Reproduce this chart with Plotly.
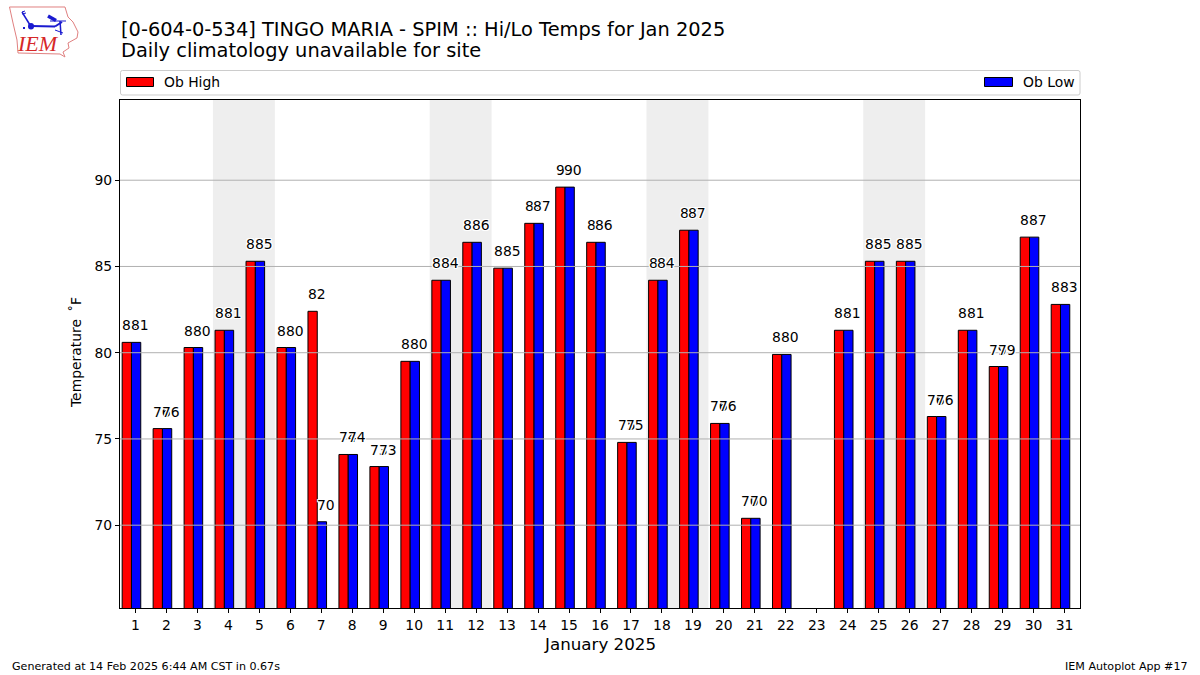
import plotly.graph_objects as go

days = list(range(1, 32))
highs = [80.6, 75.6, 80.3, 81.3, 85.3, 80.3, 82.4, 74.1, 73.4, 79.5, 84.2, 86.4, 84.9, 87.5, 89.6, 86.4,
         74.8, 84.2, 87.1, 75.9, 70.4, 79.9, None, 81.3, 85.3, 85.3, 76.3, 81.3, 79.2, 86.7, 82.8]
lows = [80.6, 75.6, 80.3, 81.3, 85.3, 80.3, 70.2, 74.1, 73.4, 79.5, 84.2, 86.4, 84.9, 87.5, 89.6, 86.4,
        74.8, 84.2, 87.1, 75.9, 70.4, 79.9, None, 81.3, 85.3, 85.3, 76.3, 81.3, 79.2, 86.7, 82.8]
high_labels = [81, 76, 80, 81, 85, 80, 82, 74, 73, 80, 84, 86, 85, 87, 90, 86,
               75, 84, 87, 76, 70, 80, None, 81, 85, 85, 76, 81, 79, 87, 83]
low_labels = [81, 76, 80, 81, 85, 80, 70, 74, 73, 80, 84, 86, 85, 87, 90, 86,
              75, 84, 87, 76, 70, 80, None, 81, 85, 85, 76, 81, 79, 87, 83]
weekends = [(4, 5), (11, 12), (18, 19), (25, 26)]
y_ticks = [70, 75, 80, 85, 90]
title_lines = ["[0-604-0-534] TINGO MARIA - SPIM :: Hi/Lo Temps for Jan 2025",
               "Daily climatology unavailable for site"]

FONT = "DejaVu Sans"
HALO = "1px 0 0 white, -1px 0 0 white, 0 1px 0 white, 0 -1px 0 white, 1px 1px 0 white, -1px -1px 0 white, 1px -1px 0 white, -1px 1px 0 white"
L, R, T, B = 120, 1080, 100, 608


def px(x):
    return (x - L) / (R - L)


def py(y):
    return (B - y) / (B - T)


fig = go.Figure()
fig.add_bar(x=days, y=highs, name="Ob High", width=0.3, offset=-0.43,
            marker=dict(color="#ff0000", line=dict(color="black", width=1)), hoverinfo="x+y")
fig.add_bar(x=days, y=lows, name="Ob Low", width=0.3, offset=-0.13,
            marker=dict(color="#0000ff", line=dict(color="black", width=1)), hoverinfo="x+y")

shapes = []
for a, b in weekends:
    shapes.append(dict(type="rect", xref="x", yref="paper", x0=a - 0.5, x1=b + 0.5, y0=0, y1=1,
                       fillcolor="#eeeeee", line=dict(width=0), layer="below"))
for t in y_ticks:
    shapes.append(dict(type="line", xref="paper", yref="y", x0=0, x1=1, y0=t, y1=t,
                       line=dict(color="#b0b0b0", width=1), layer="above"))

# legend frame and swatches
shapes.append(dict(type="path", xref="paper", yref="paper", layer="above",
                   path="M %f,%f L %f,%f Q %f,%f %f,%f L %f,%f Q %f,%f %f,%f L %f,%f Q %f,%f %f,%f L %f,%f Q %f,%f %f,%f Z" % (
                       px(122.5), py(70.5), px(1078), py(70.5), px(1080), py(70.5), px(1080), py(72.5),
                       px(1080), py(93), px(1080), py(95), px(1078), py(95),
                       px(122.5), py(95), px(120.5), py(95), px(120.5), py(93),
                       px(120.5), py(72.5), px(120.5), py(70.5), px(122.5), py(70.5)),
                   line=dict(color="#cccccc", width=1), fillcolor="white"))
shapes.append(dict(type="rect", xref="paper", yref="paper", x0=px(126.5), x1=px(153.5), y0=py(86.5), y1=py(77.5),
                   fillcolor="#ff0000", line=dict(color="black", width=1)))
shapes.append(dict(type="rect", xref="paper", yref="paper", x0=px(984.5), x1=px(1012.5), y0=py(86.5), y1=py(77.5),
                   fillcolor="#0000ff", line=dict(color="black", width=1)))

# logo
outline = [(9.5, 7), (65, 7), (68, 17), (73, 22), (78, 32), (77, 38), (68, 43), (69, 48), (63, 52), (65, 57), (60, 54),
           (18, 53), (17, 40), (13, 23), (9.5, 7)]
shapes.append(dict(type="path", xref="paper", yref="paper",
                   path="M " + " L ".join("%f,%f" % (px(a), py(b)) for a, b in outline) + " Z",
                   line=dict(color="#e08080", width=1)))
for (x0, y0, x1, y1, w) in [(31, 26, 55, 26.5, 2), (55, 26.5, 62, 22, 2), (22, 12, 30, 25, 1.5), (22, 12, 25, 11, 1),
                            (22, 14, 26, 13, 1), (48, 16, 56, 20.5, 3.5), (50, 21, 66, 21, 1),
                            (60, 21, 61, 35, 1.5), (55, 30, 63, 33, 1), (24, 27, 24, 29, 2)]:
    shapes.append(dict(type="line", xref="paper", yref="paper", x0=px(x0), y0=py(y0), x1=px(x1), y1=py(y1),
                       line=dict(color="#1a1ad0", width=w)))
shapes.append(dict(type="circle", xref="paper", yref="paper", x0=px(28), x1=px(34), y0=py(29.5), y1=py(23),
                   fillcolor="#1a1ad0", line=dict(width=0)))

ann = []


def text(x, y, s, size, anchor="left", color="black", family=FONT, rot=0, style="normal"):
    ann.append(dict(xref="paper", yref="paper", x=px(x), y=py(y), text=s, showarrow=False,
                    font=dict(size=size, color=color, family=family, style=style), xanchor=anchor, yanchor="middle",
                    textangle=rot, align=anchor if anchor != "middle" else "center", borderpad=0))


label_font = dict(size=13.9, color="black", family=FONT, shadow=HALO)
for d, h, l, hl, ll in zip(days, highs, lows, high_labels, low_labels):
    if hl is None:
        continue
    ann.append(dict(x=d, y=h, xref="x", yref="y", text=str(hl), showarrow=False, yanchor="bottom", yshift=8,
                    xshift=-4.4, font=label_font, borderpad=0))
    ann.append(dict(x=d, y=l, xref="x", yref="y", text=str(ll), showarrow=False, yanchor="bottom", yshift=8,
                    xshift=4.4, font=label_font, borderpad=0))

text(119.5, 29, title_lines[0], 19.4)
text(119.5, 51, title_lines[1], 19.4)
text(162.5, 82, "Ob High", 13.9)
text(1021.5, 82, "Ob Low", 13.9)
text(600, 644, "January 2025", 16.7, "center")
text(76, 353, "Temperature\u00a0\u2009˚F", 13.9, "center", rot=-90)
text(10.5, 666, "Generated at 14 Feb 2025 6:44 AM CST in 0.67s", 11.1)
text(1189, 666, "IEM Autoplot App #17", 11.1, "right")
text(38, 44, "IEM", 22, "center", color="#d62828", family="Liberation Serif", style="italic")

fig.update_layout(
    width=1200, height=675, margin=dict(l=L, r=1200 - R, t=T, b=675 - B, autoexpand=False),
    paper_bgcolor="white", plot_bgcolor="white", barmode="overlay", showlegend=False,
    font=dict(family=FONT, size=13.9, color="black"),
    shapes=shapes, annotations=ann,
    xaxis=dict(range=[0.5, 31.5], tickmode="array", tickvals=days, ticks="outside", ticklen=4, tickwidth=1,
               tickcolor="black", showgrid=False, zeroline=False, showline=True, linecolor="black", linewidth=1,
               mirror=True, tickfont=dict(size=13.9)),
    yaxis=dict(range=[65.2, 94.65], tickmode="array", tickvals=y_ticks, ticks="outside", ticklen=4, tickwidth=1,
               tickcolor="black", showgrid=False, zeroline=False, showline=True, linecolor="black", linewidth=1,
               mirror=True, tickfont=dict(size=13.9)),
)
fig.write_html("out.html", config={"displayModeBar": False},
               post_script="document.body.style.margin='0';document.body.style.overflow='hidden';")
